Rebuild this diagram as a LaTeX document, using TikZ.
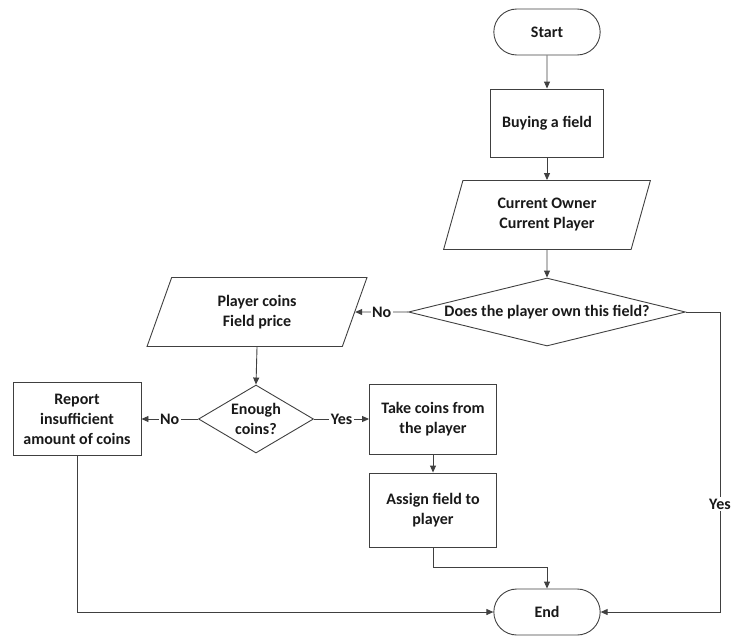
\documentclass[tikz,border=0pt]{standalone}
\usepackage{fontspec}
\setmainfont{Carlito}
\usetikzlibrary{shapes.geometric, shapes.misc}
\usetikzlibrary{arrows.meta}

\begin{document}
\begin{tikzpicture}[x=1pt,y=-1pt,
  font=\bfseries\fontsize{16}{20}\selectfont,
  every node/.style={text=black!90},
  box/.style={draw=linegray,line width=0.9pt,rectangle,align=center,
    minimum width=127,minimum height=70},
  term/.style={draw=linegray,line width=0.9pt,rounded rectangle,
    minimum width=113,minimum height=46},
  io/.style={draw=linegray,line width=0.9pt,trapezium,align=center,
    trapezium left angle=73,trapezium right angle=107,
    trapezium stretches=true,minimum height=69},
  decision/.style={draw=linegray,line width=0.9pt,diamond,align=center,
    inner sep=0pt},
  arr/.style={draw=linegray,line width=0.9pt,-{Triangle[length=7pt,width=6pt]}},
  lbl/.style={fill=white,inner sep=1.5pt}]
\definecolor{linegray}{RGB}{64,64,64}
\useasboundingbox (0,0) rectangle (735,635);

% Main column.
\node[term] (start) at (547,32) {Start};
\node[box,minimum width=113,minimum height=68] (buy) at (547,123) {Buying a field};
\node[io,minimum width=207] (owner) at (547,215) {Current Owner\\Current Player};
\node[decision,aspect=4,minimum width=277,minimum height=68] (own) at (547,312)
  {Does the player own this field?};

% Not owned yet: check the coins.
\node[io,minimum width=220] (coins) at (257,312) {Player coins\\Field price};
\node[decision,aspect=1.7,minimum width=115,minimum height=68] (enough) at (256,419)
  {Enough\\coins?};
\node[box,minimum width=128,minimum height=73] (report) at (77,419)
  {Report\\insufficient\\amount of coins};
\node[box] (take) at (433,419) {Take coins from\\the player};
\node[box,minimum height=74] (assign) at (433,510) {Assign field to\\player};
\node[term] (end) at (547,612) {End};

\draw[arr] (start) -- (buy);
\draw[arr] (buy) -- (owner);
\draw[arr] (owner) -- (own);
\draw[arr] (own) -- node[lbl] {No} (coins);
\draw[arr] (coins.south) -- (enough.north);
\draw[arr] (enough) -- node[lbl] {No} (report);
\draw[arr] (enough) -- node[lbl] {Yes} (take);
\draw[arr] (take) -- (assign);

% Everything ends in the same place.
\draw[arr] (assign.south) -- ++(0,20) -| (end.north);
\draw[arr] (report.south) |- (end.west);
\draw[arr] (own.east) -- ++(34,0) |- node[lbl,pos=0.32] {Yes} (end.east);
\end{tikzpicture}
\end{document}
